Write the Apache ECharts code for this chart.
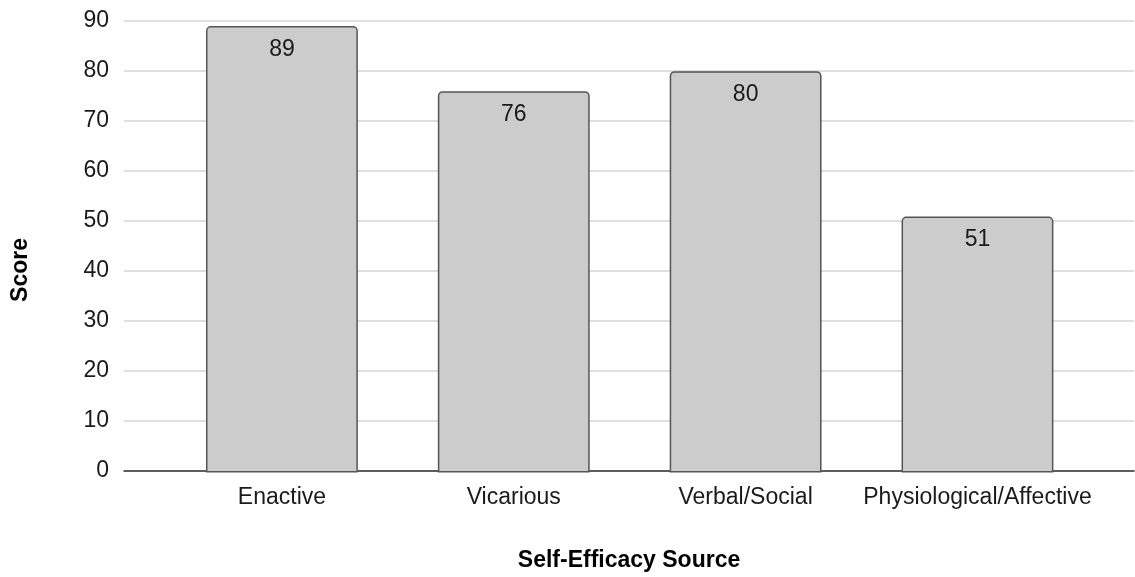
<!DOCTYPE html>
<html>
<head>
<meta charset="utf-8">
<script src="https://cdn.jsdelivr.net/npm/echarts@6/dist/echarts.min.js"></script>
<style>
  html, body { margin: 0; padding: 0; background: #fff; }
  #chart { width: 1135px; height: 577px; }
</style>
</head>
<body>
<div id="chart"></div>
<script>
// Self-efficacy source scores
const categories = ['Enactive', 'Vicarious', 'Verbal/Social', 'Physiological/Affective'];
const scores = [89, 76, 80, 51];
const yTicks = { min: 0, max: 90, interval: 10 };

const font = '"Liberation Sans", Arial, sans-serif';
const fs = 23;
const textColor = '#1a1a1a';
const gridTop = 21, gridBottom = 104.6;

const chart = echarts.init(document.getElementById('chart'));
chart.setOption({
  animation: false,
  grid: [
    // frame grid: gridlines, value labels and baseline span the full width
    { left: 124, right: 1, top: gridTop, bottom: gridBottom, containLabel: false },
    // bar grid: categories sit inset from the frame edges
    { left: 166, right: 41.6, top: gridTop, bottom: gridBottom, containLabel: false }
  ],
  xAxis: [
    {
      gridIndex: 0,
      type: 'category',
      data: categories,
      name: 'Self-Efficacy Source',
      nameLocation: 'middle',
      nameGap: 78,
      nameTextStyle: { fontFamily: font, fontSize: fs, fontWeight: 'bold', color: '#000' },
      axisLine: { lineStyle: { color: '#333', width: 1.5 } },
      axisTick: { show: false },
      axisLabel: { show: false },
      splitLine: { show: false }
    },
    {
      gridIndex: 1,
      type: 'category',
      data: categories,
      axisLine: { show: false },
      axisTick: { show: false },
      axisLabel: { fontFamily: font, fontSize: fs, color: textColor, margin: 14, interval: 0 },
      splitLine: { show: false }
    }
  ],
  yAxis: [
    {
      gridIndex: 0,
      type: 'value',
      min: yTicks.min,
      max: yTicks.max,
      interval: yTicks.interval,
      name: 'Score',
      nameLocation: 'middle',
      nameGap: 92,
      nameRotate: 90,
      nameTextStyle: {
        fontFamily: font, fontSize: fs, fontWeight: 'bold', color: '#000',
        padding: [0, 48, 0, 0]
      },
      axisLine: { show: false },
      axisTick: { show: false },
      axisLabel: { fontFamily: font, fontSize: fs, color: textColor, margin: 15 },
      splitLine: { lineStyle: { color: '#d4d4d4', width: 1.5 } }
    },
    {
      gridIndex: 1,
      type: 'value',
      min: yTicks.min,
      max: yTicks.max,
      interval: yTicks.interval,
      show: false,
      splitLine: { show: false }
    }
  ],
  series: [{
    type: 'bar',
    xAxisIndex: 1,
    yAxisIndex: 1,
    data: scores,
    barWidth: '65.5%',
    itemStyle: {
      color: '#cccccc',
      borderColor: '#555555',
      borderWidth: 1.5,
      borderRadius: [4, 4, 0, 0]
    },
    label: {
      show: true,
      position: 'insideTop',
      distance: 12,
      fontFamily: font,
      fontSize: fs,
      color: textColor
    }
  }]
});
</script>
</body>
</html>
